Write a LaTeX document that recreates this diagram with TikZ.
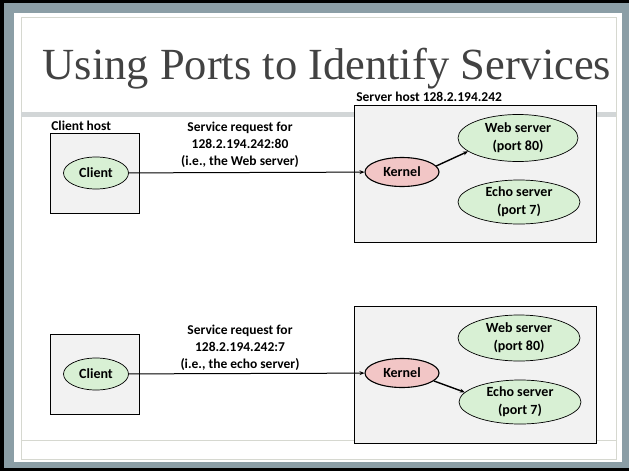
\documentclass[tikz,border=0pt]{standalone}
\usepackage{fontspec}
\setmainfont{Carlito}
\newfontfamily\titlefont{Liberation Serif}
\usetikzlibrary{arrows.meta,shapes.geometric}

\definecolor{framegray}{RGB}{139,158,166}
\definecolor{panelline}{RGB}{214,216,208}
\definecolor{bandgray}{RGB}{210,214,215}
\definecolor{boxfill}{RGB}{242,242,242}
\definecolor{procgreen}{RGB}{216,240,212}
\definecolor{kernelpink}{RGB}{242,198,198}
\definecolor{titlegray}{RGB}{66,66,66}

\tikzset{
  host/.style={draw=black, fill=boxfill, line width=0.8pt},
  hostlabel/.style={anchor=south west, inner sep=1.5pt, font=\bfseries\fontsize{13.5}{15}\selectfont},
  proc/.style={ellipse, draw=black, fill=procgreen, line width=0.7pt, inner xsep=0pt,
    inner ysep=-5pt, align=center, font=\bfseries\fontsize{14}{18}\selectfont},
  kern/.style={proc, fill=kernelpink, line width=1.1pt, minimum width=74pt, minimum height=29pt},
  note/.style={align=center, font=\bfseries\fontsize{13.5}{17}\selectfont},
  req/.style={-{Stealth[length=5pt,width=4pt]}, line width=1pt},
  fwd/.style={-{Stealth[length=5pt,width=4pt]}, line width=1.4pt}
}

\begin{document}
\begin{tikzpicture}[x=1pt,y=-1pt]
\useasboundingbox (0,0) rectangle (629,471);
% slide frame
\fill[black] (0,0) rectangle (629,471);
\fill[framegray] (4,3) rectangle (629,468);
\fill[white] (14,13) rectangle (622,462);
\draw[panelline] (21,17) rectangle (616,459);
\fill[bandgray] (21,112) rectangle (616,117);
\draw[panelline] (21,440) -- (616,440);
\node[anchor=base, text=titlegray, font=\titlefont\fontsize{44.5}{50}\selectfont] (title)
  at (327,79) {Using Ports to Identify Services};

% request for the web server
\begin{scope}
\node[host, minimum width=89pt, minimum height=80pt] (chost1) at (94.5,173) {};
\node[hostlabel] (clabel) at (chost1.north west) {Client host};
\node[host, minimum width=242pt, minimum height=137pt] (shost1) at (475,173.5) {};
\node[hostlabel, inner sep=2.5pt] (slabel) at (shost1.north west) {Server host 128.2.194.242};
\node[proc, minimum width=65pt, minimum height=32pt] (client1) at (96,173) {Client};
\node[kern] (kernel1) at (402,172) {Kernel};
\node[proc, minimum width=120pt, minimum height=47pt] (web1) at (518,138) {Web server\\(port 80)};
\node[proc, minimum width=122pt, minimum height=44pt] (echo1) at (519,202) {Echo server\\(port 7)};
\node[note] (note1) at (240,145) {Service request for\\128.2.194.242:80\\(i.e., the Web server)};
\draw[req] (client1) -- (kernel1);
\draw[fwd] (kernel1.10) -- (web1.195);
\end{scope}

% request for the echo server
\begin{scope}[shift={(0,201)}]
\node[host, minimum width=89pt, minimum height=80pt] (chost2) at (94.5,173) {};
\node[host, minimum width=242pt, minimum height=137pt] (shost2) at (475,174) {};
\node[proc, minimum width=65pt, minimum height=32pt] (client2) at (96,173) {Client};
\node[kern] (kernel2) at (402,172) {Kernel};
\node[proc, minimum width=122pt, minimum height=46pt] (web2) at (519,137) {Web server\\(port 80)};
\node[proc, minimum width=122pt, minimum height=44pt] (echo2) at (520,201) {Echo server\\(port 7)};
\node[note] (note2) at (240,147) {Service request for\\128.2.194.242:7\\(i.e., the echo server)};
\draw[req] (client2) -- (kernel2);
\draw[fwd] (kernel2.-14) -- (echo2.170);
\end{scope}
\end{tikzpicture}
\end{document}
